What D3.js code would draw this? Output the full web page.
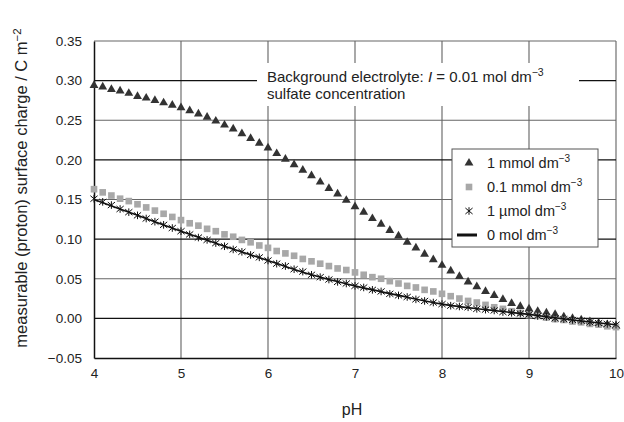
<!DOCTYPE html>
<html>
<meta charset="utf-8">
<title>Surface charge vs pH</title>
<style>
body { margin: 0; background: #fff; }
text { font-family: "Liberation Sans", Arial, sans-serif; fill: #222; }
.tick text { font-size: 13.5px; }
</style>
<script src="https://d3js.org/d3.v7.min.js"></script>
<body>
<script>
// pH values for the measured points
const pH = [4.0, 4.1, 4.2, 4.3, 4.4, 4.5, 4.6, 4.7, 4.8, 4.9,
  5.0, 5.1, 5.2, 5.3, 5.4, 5.5, 5.6, 5.7, 5.8, 5.9,
  6.0, 6.1, 6.2, 6.3, 6.4, 6.5, 6.6, 6.7, 6.8, 6.9,
  7.0, 7.1, 7.2, 7.3, 7.4, 7.5, 7.6, 7.7, 7.8, 7.9,
  8.0, 8.1, 8.2, 8.3, 8.4, 8.5, 8.6, 8.7, 8.8, 8.9,
  9.0, 9.1, 9.2, 9.3, 9.4, 9.5, 9.6, 9.7, 9.8, 9.9, 10.0];

// 1 mmol dm-3 sulfate
const sulfate1mmol = [0.294, 0.292, 0.289, 0.287, 0.284, 0.280, 0.278, 0.275, 0.272, 0.269,
  0.266, 0.262, 0.258, 0.254, 0.249, 0.244, 0.239, 0.233, 0.227, 0.221,
  0.215, 0.208, 0.201, 0.194, 0.187, 0.180, 0.172, 0.164, 0.157, 0.149,
  0.141, 0.134, 0.126, 0.119, 0.111, 0.104, 0.096, 0.089, 0.081, 0.074,
  0.067, 0.060, 0.053, 0.046, 0.040, 0.034, 0.029, 0.024, 0.019, 0.015,
  0.012, 0.009, 0.007, 0.005, 0.002, 0.000, -0.002, -0.004, -0.006, -0.008, -0.010];

// 0.1 mmol dm-3 sulfate
const sulfate01mmol = [0.163, 0.159, 0.155, 0.151, 0.148, 0.144, 0.140, 0.136, 0.132, 0.128,
  0.124, 0.120, 0.117, 0.113, 0.110, 0.106, 0.103, 0.099, 0.096, 0.092,
  0.089, 0.085, 0.082, 0.079, 0.075, 0.072, 0.069, 0.066, 0.063, 0.061,
  0.058, 0.055, 0.052, 0.050, 0.047, 0.044, 0.041, 0.039, 0.036, 0.034,
  0.031, 0.028, 0.025, 0.022, 0.020, 0.017, 0.014, 0.012, 0.009, 0.007,
  0.004, 0.003, 0.001, -0.001, -0.002, -0.004, -0.005, -0.007, -0.008, -0.010, -0.011];

// 1 umol dm-3 sulfate
const sulfate1umol = [0.151, 0.147, 0.143, 0.138, 0.134, 0.130, 0.126, 0.122, 0.118, 0.114,
  0.110, 0.106, 0.102, 0.099, 0.095, 0.091, 0.087, 0.084, 0.080, 0.077,
  0.073, 0.069, 0.066, 0.062, 0.059, 0.055, 0.052, 0.049, 0.046, 0.044,
  0.041, 0.039, 0.036, 0.034, 0.031, 0.029, 0.027, 0.024, 0.022, 0.020,
  0.018, 0.016, 0.015, 0.014, 0.012, 0.011, 0.010, 0.008, 0.007, 0.006,
  0.005, 0.003, 0.002, 0.000, -0.001, -0.002, -0.003, -0.005, -0.006, -0.007, -0.008];

// 0 mol dm-3 sulfate (model curve)
const linePH = [4.0, 4.5, 5.0, 5.5, 6.0, 6.5, 7.0, 7.5, 8.0, 8.5, 9.0, 9.5, 10.0];
const sulfate0 = [0.150, 0.130, 0.110, 0.091, 0.073, 0.055, 0.041, 0.029, 0.018, 0.011, 0.005, -0.002, -0.008];

const xTicks = [4, 5, 6, 7, 8, 9, 10];
const yTicks = [-0.05, 0, 0.05, 0.10, 0.15, 0.20, 0.25, 0.30, 0.35];

const width = 624, height = 422;
const margin = {top: 41, right: 8, bottom: 64, left: 94};
const w = width - margin.left - margin.right,
    h = height - margin.top - margin.bottom;

const x = d3.scaleLinear().domain([4, 10]).range([0, w]);
const y = d3.scaleLinear().domain([-0.05, 0.35]).range([h, 0]);

const svg = d3.select("body").append("svg")
    .attr("width", width)
    .attr("height", height);

const g = svg.append("g")
    .attr("transform", "translate(" + margin.left + "," + margin.top + ")");

// grid
g.append("g").selectAll("line.v")
  .data(xTicks.slice(1))
  .join("line")
    .attr("x1", d => x(d)).attr("x2", d => x(d))
    .attr("y1", 0).attr("y2", h)
    .attr("stroke", "#6f6f6f").attr("stroke-width", 1.2);

g.append("g").selectAll("line.h")
  .data(yTicks.slice(1))
  .join("line")
    .attr("x1", 0).attr("x2", w)
    .attr("y1", d => y(d)).attr("y2", d => y(d))
    .attr("stroke", (d, i) => i % 2 === 0 ? "#111" : "#666")
    .attr("stroke-width", 1.2);

// axes
const xAxis = g.append("g")
    .attr("transform", "translate(0," + h + ")")
    .call(d3.axisBottom(x).tickValues(xTicks).tickSize(0).tickPadding(10).tickFormat(d3.format("d")));
const yAxis = g.append("g")
    .call(d3.axisLeft(y).tickValues(yTicks).tickSize(0).tickPadding(12)
      .tickFormat(d => d < 0 ? "\u2212" + d3.format(".2f")(-d) : d3.format(".2f")(d)));
xAxis.select(".domain").attr("stroke", "#111").attr("stroke-width", 1.5);
yAxis.select(".domain").attr("stroke", "#111").attr("stroke-width", 1.5);
xAxis.selectAll("text").attr("fill", "#222");
yAxis.selectAll("text").attr("fill", "#222");

// annotation box
g.append("rect")
    .attr("x", 257 - margin.left).attr("y", 63 - margin.top)
    .attr("width", 322).attr("height", 43)
    .attr("fill", "#fff");
const ann = g.append("text")
    .attr("x", 267 - margin.left).attr("y", 82 - margin.top)
    .style("font-size", "15px");
ann.append("tspan").text("Background electrolyte: ");
ann.append("tspan").style("font-style", "italic").text("I");
ann.append("tspan").text(" = 0.01 mol dm");
ann.append("tspan").attr("dy", -6).style("font-size", "10.5px").text("\u22123");
g.append("text")
    .attr("x", 267 - margin.left).attr("y", 99 - margin.top)
    .style("font-size", "15px")
    .text("sulfate concentration");

// series
const pts = (xs, ys) => xs.map((d, i) => [d, ys[i]]);
const triangle = d3.symbol().type(d3.symbolTriangle).size(34);
const square = d3.symbol().type(d3.symbolSquare).size(44);
const starPath = "M0,-3.8V3.8M-3.6,-3L3.6,3M-3.6,3L3.6,-3";

g.append("g").selectAll("path")
  .data(pts(pH, sulfate1mmol))
  .join("path")
    .attr("transform", d => "translate(" + x(d[0]) + "," + y(d[1]) + ")")
    .attr("d", triangle)
    .attr("fill", "#333");

g.append("g").selectAll("path")
  .data(pts(pH, sulfate01mmol))
  .join("path")
    .attr("transform", d => "translate(" + x(d[0]) + "," + y(d[1]) + ")")
    .attr("d", square)
    .attr("fill", "#a8a8a8");

g.append("path")
    .datum(pts(linePH, sulfate0))
    .attr("fill", "none")
    .attr("stroke", "#111")
    .attr("stroke-width", 1.6)
    .attr("d", d3.line().x(d => x(d[0])).y(d => y(d[1])).curve(d3.curveMonotoneX));

g.append("g").selectAll("path")
  .data(pts(pH, sulfate1umol))
  .join("path")
    .attr("transform", d => "translate(" + x(d[0]) + "," + y(d[1]) + ")")
    .attr("d", starPath)
    .attr("fill", "none")
    .attr("stroke", "#111")
    .attr("stroke-width", 1);

// legend
const legend = g.append("g")
    .attr("transform", "translate(" + (452 - margin.left) + "," + (149 - margin.top) + ")");
legend.append("rect")
    .attr("width", 146).attr("height", 98)
    .attr("fill", "#fff").attr("stroke", "#555").attr("stroke-width", 1);

const legendItems = [
  {label: "1 mmol dm", kind: "tri"},
  {label: "0.1 mmol dm", kind: "sq"},
  {label: "1 \u00b5mol dm", kind: "star"},
  {label: "0 mol dm", kind: "line"}
];
const row = legend.selectAll("g.item")
  .data(legendItems)
  .join("g")
    .attr("transform", (d, i) => "translate(0," + (14 + i * 24) + ")");
row.each(function(d) {
  const r = d3.select(this);
  if (d.kind === "tri") r.append("path").attr("transform", "translate(17,0)").attr("d", triangle).attr("fill", "#333");
  if (d.kind === "sq") r.append("path").attr("transform", "translate(17,0)").attr("d", square).attr("fill", "#a8a8a8");
  if (d.kind === "star") r.append("path").attr("transform", "translate(17,0)").attr("d", starPath)
      .attr("fill", "none").attr("stroke", "#111");
  if (d.kind === "line") r.append("line").attr("x1", 5).attr("x2", 25).attr("stroke", "#111").attr("stroke-width", 3);
});
const lt = row.append("text")
    .attr("x", 35).attr("y", 5)
    .style("font-size", "14.5px");
lt.append("tspan").text(d => d.label);
lt.append("tspan").attr("dy", -6).style("font-size", "10px").text("\u22123");

// axis titles
svg.append("text")
    .attr("x", 352).attr("y", 415)
    .attr("text-anchor", "middle")
    .style("font-size", "16px")
    .text("pH");

const yt = svg.append("text")
    .attr("transform", "translate(27,188) rotate(-90)")
    .attr("text-anchor", "middle")
    .style("font-size", "16.5px");
yt.append("tspan").text("measurable (proton) surface charge / C m");
yt.append("tspan").attr("dy", -6).style("font-size", "11.5px").text("\u22122");
</script>
</body>
</html>
